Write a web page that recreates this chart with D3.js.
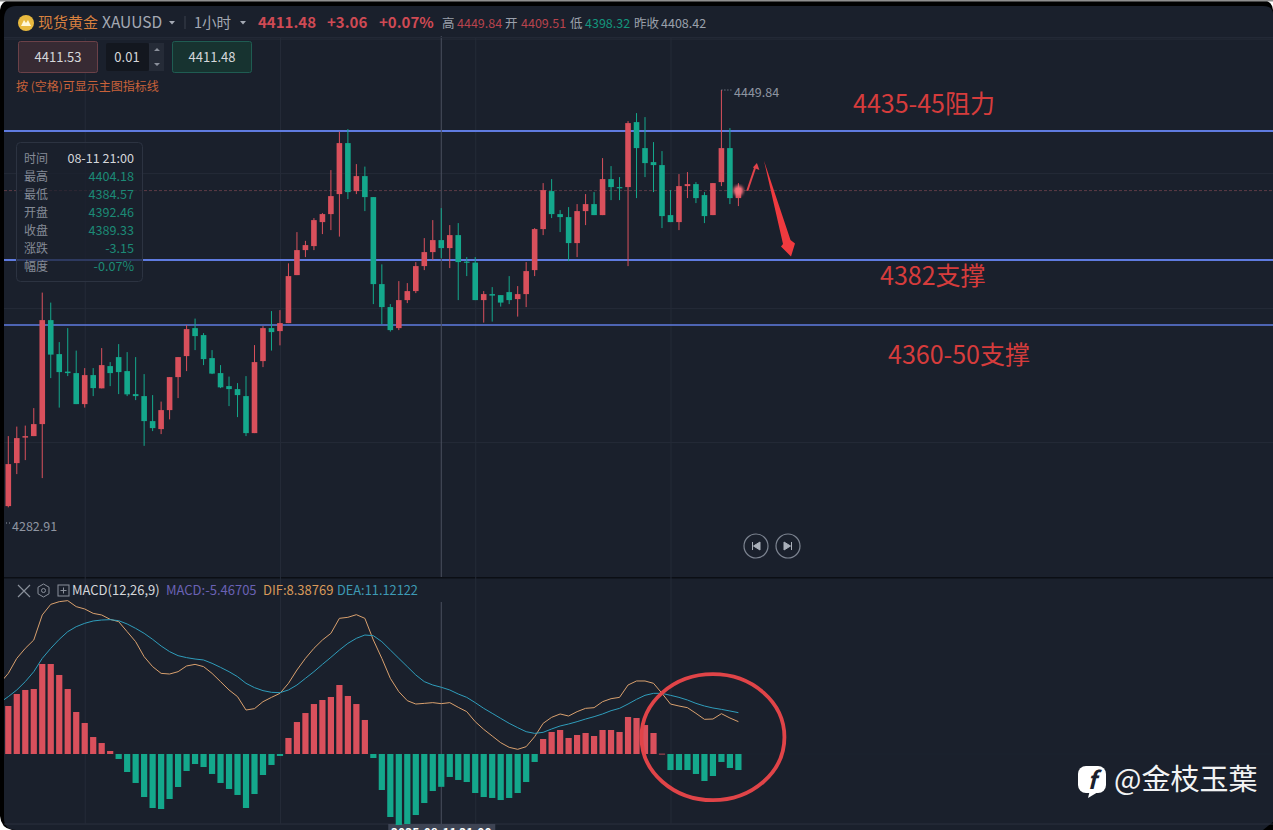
<!DOCTYPE html>
<html>
<head>
<meta charset="utf-8">
<title>XAUUSD</title>
<script src="https://cdn.jsdelivr.net/npm/d3@7/dist/d3.min.js"></script>
<style>
html, body { margin: 0; padding: 0; background: #fff; overflow: hidden; }
svg { display: block; }
text { font-family: "Noto Sans CJK SC", "Noto Sans", sans-serif; }
</style>
</head>
<body>
<svg id="chart" width="1273" height="830"></svg>
<script>

// 1 hour candles
var opens = [4283.4, 4300.6, 4310.8, 4311.4, 4316.2, 4357.8, 4344.2, 4337.2, 4336.6, 4324.2, 4335.8, 4330.5, 4339.4, 4343.0, 4337.4, 4328.2, 4327.4, 4317.4, 4314.2, 4321.8, 4335.0, 4343.4, 4354.6, 4351.8, 4342.6, 4336.6, 4331.4, 4330.2, 4327.4, 4312.6, 4341.4, 4354.6, 4353.4, 4356.6, 4375.8, 4385.8, 4387.4, 4397.0, 4400.2, 4408.2, 4428.6, 4409.4, 4415.4, 4407.0, 4372.2, 4363.0, 4354.6, 4365.8, 4369.4, 4379.4, 4385.0, 4389.8, 4386.6, 4391.8, 4381.2, 4380.8, 4365.8, 4368.2, 4367.8, 4369.0, 4366.2, 4368.2, 4377.8, 4394.2, 4409.4, 4400.2, 4399.0, 4388.6, 4401.4, 4404.2, 4399.8, 4414.2, 4411.0, 4411.0, 4437.0, 4426.6, 4421.0, 4419.8, 4399.8, 4397.0, 4411.4, 4412.2, 4407.8, 4399.8, 4413.0, 4426.6, 4406.6];
var closes = [4300.2, 4310.6, 4311.4, 4316.2, 4357.8, 4344.0, 4337.0, 4336.6, 4324.2, 4335.8, 4330.6, 4339.8, 4336.6, 4337.0, 4328.1, 4327.4, 4317.4, 4314.6, 4321.8, 4335.0, 4343.0, 4354.2, 4351.4, 4342.2, 4336.4, 4330.9, 4330.2, 4327.8, 4312.6, 4341.0, 4354.6, 4353.0, 4356.6, 4375.4, 4385.8, 4387.8, 4397.8, 4400.2, 4407.4, 4428.6, 4409.0, 4415.4, 4407.0, 4372.2, 4363.0, 4353.8, 4365.8, 4369.4, 4379.4, 4385.0, 4389.8, 4386.6, 4391.8, 4381.0, 4380.8, 4365.8, 4368.2, 4367.6, 4364.8, 4365.8, 4368.2, 4377.4, 4394.2, 4409.8, 4400.2, 4399.0, 4388.6, 4401.4, 4404.2, 4399.8, 4414.2, 4411.0, 4410.6, 4436.6, 4426.6, 4420.6, 4419.8, 4399.4, 4397.0, 4411.4, 4412.2, 4406.6, 4399.4, 4412.6, 4426.6, 4406.6, 4410.6];
var highs = [4311.4, 4315.2, 4315.6, 4322.6, 4368.8, 4364.8, 4349.0, 4354.6, 4345.6, 4338.6, 4338.6, 4346.6, 4341.0, 4348.2, 4345.0, 4343.0, 4336.2, 4327.8, 4325.2, 4335.0, 4343.0, 4355.8, 4358.4, 4352.6, 4345.8, 4339.8, 4335.2, 4332.6, 4335.4, 4347.8, 4355.4, 4361.4, 4361.8, 4380.5, 4393.0, 4389.5, 4398.6, 4400.6, 4417.8, 4433.2, 4434.2, 4420.2, 4419.2, 4407.0, 4380.1, 4364.2, 4373.4, 4372.6, 4381.0, 4390.6, 4397.8, 4402.6, 4395.8, 4396.6, 4383.0, 4383.0, 4369.4, 4371.0, 4367.8, 4375.4, 4371.4, 4381.0, 4394.6, 4412.6, 4414.2, 4401.8, 4403.0, 4404.2, 4408.2, 4409.0, 4422.6, 4419.4, 4415.0, 4437.4, 4440.6, 4439.0, 4429.0, 4425.4, 4409.8, 4416.2, 4417.0, 4413.0, 4409.0, 4412.6, 4449.84, 4434.6, 4412.6];
var lows = [4282.91, 4296.2, 4301.8, 4311.4, 4294.6, 4334.6, 4322.8, 4335.4, 4324.2, 4322.8, 4327.4, 4330.5, 4331.4, 4328.2, 4327.4, 4325.8, 4307.5, 4313.4, 4312.2, 4318.1, 4326.6, 4337.4, 4345.8, 4339.8, 4336.2, 4330.6, 4323.4, 4319.0, 4311.4, 4312.6, 4339.0, 4345.6, 4347.7, 4356.6, 4375.8, 4383.0, 4385.8, 4392.2, 4393.8, 4391.2, 4406.2, 4408.2, 4401.4, 4364.2, 4356.2, 4353.2, 4353.8, 4364.6, 4368.6, 4377.8, 4381.8, 4382.6, 4378.6, 4365.8, 4375.4, 4365.8, 4356.8, 4357.2, 4363.2, 4364.2, 4359.2, 4363.0, 4375.4, 4391.8, 4398.6, 4393.0, 4381.4, 4383.0, 4395.8, 4399.8, 4399.8, 4405.8, 4405.8, 4379.4, 4406.6, 4415.0, 4409.0, 4394.6, 4397.0, 4393.8, 4406.6, 4404.6, 4396.6, 4399.8, 4411.4, 4404.2, 4403.4];

var macdHist = [8.0, 10.0, 10.67, 10.83, 15.0, 15.0, 13.17, 10.83, 7.0, 5.17, 2.83, 1.83, 0.5, -0.83, -3.0, -4.83, -7.17, -9.0, -9.17, -7.5, -5.5, -2.83, -1.67, -2.17, -3.33, -4.83, -5.83, -6.83, -9.0, -6.67, -3.5, -1.83, -0.33, 2.67, 5.33, 6.83, 8.33, 9.0, 9.5, 11.5, 9.67, 8.33, 5.67, -0.67, -6.0, -10.5, -11.83, -11.67, -10.17, -8.17, -6.17, -5.47, -3.83, -4.33, -4.67, -6.5, -7.17, -7.33, -7.67, -7.33, -6.5, -4.67, -1.33, 2.5, 3.67, 4.0, 2.67, 3.17, 3.5, 3.0, 4.0, 4.0, 3.67, 6.17, 6.0, 4.83, 3.5, 0.05, -2.67, -2.67, -2.67, -3.33, -4.5, -3.67, -1.33, -2.33, -2.67];
// the two lines have one more point: the bar before the first one, mostly off the left edge
var difValues = [11.78, 13.44, 15.94, 17.61, 19.0, 23.17, 24.94, 25.39, 25.56, 24.56, 24.17, 23.44, 23.17, 22.44, 22.06, 20.39, 18.72, 16.22, 14.56, 13.44, 13.33, 13.72, 14.67, 14.94, 14.56, 13.44, 12.06, 10.67, 9.56, 7.33, 7.56, 8.72, 9.44, 10.11, 11.78, 14.0, 15.94, 17.61, 19.0, 20.11, 22.61, 22.78, 23.22, 22.61, 19.0, 15.94, 12.61, 10.39, 8.89, 8.33, 8.44, 8.56, 8.39, 8.56, 7.78, 7.06, 5.39, 4.11, 3.0, 1.89, 1.11, 0.78, 1.22, 2.89, 5.11, 6.11, 6.67, 6.33, 7.06, 7.61, 7.72, 8.72, 9.22, 9.44, 11.5, 12.17, 12.17, 11.78, 10.11, 8.33, 8.0, 7.72, 6.78, 5.78, 5.83, 6.72, 6.0, 5.39];
var deaValues = [8.56, 9.56, 10.67, 12.06, 13.72, 15.94, 17.61, 19.11, 20.39, 21.22, 21.78, 22.17, 22.33, 22.39, 22.22, 21.67, 20.94, 20.11, 19.11, 18.0, 17.06, 16.39, 16.06, 15.83, 15.67, 15.11, 14.44, 13.72, 12.89, 11.78, 11.06, 10.56, 10.28, 10.22, 10.67, 11.5, 12.61, 13.72, 14.94, 16.11, 17.33, 18.44, 19.28, 19.83, 19.72, 18.72, 17.33, 15.94, 14.56, 13.17, 12.06, 11.5, 11.12, 10.67, 10.0, 9.44, 8.56, 7.61, 6.78, 5.94, 5.11, 4.39, 3.72, 3.44, 3.61, 4.17, 4.67, 5.0, 5.39, 5.83, 6.22, 6.67, 7.22, 7.61, 8.33, 9.11, 9.78, 10.11, 10.11, 9.78, 9.44, 9.0, 8.44, 8.0, 7.67, 7.44, 7.17, 6.89];

var levelPrices = [4433.44, 4381.84, 4355.84];
var levelWidths = [2, 2, 1.6];
var levelNotes = ["4435-45阻力", "4382支撑", "4360-50支撑"];
var gridPrices = [4470.4, 4416.6, 4362.6, 4309.0];
var lastPrice = 4409.6;
var timeTickIndex = [9, 32, 55, 78];
var timeTickLabels = ["08-08 01:00", "08-11 01:00", "08-12 01:00", "08-13 01:00"];
var crossIndex = 51;
var crossLabel = "2025-08-11 21:00";
var tooltipLabels = ["时间", "最高", "最低", "开盘", "收盘", "涨跌", "幅度"];
var tooltipValues = ["08-11 21:00", "4404.18", "4384.57", "4392.46", "4389.33", "-3.15", "-0.07%"];

var upColor = "#d9505c";
var downColor = "#14a88c";
var panelColor = "#1a202c";
var gridColor = "#252b38";
var levelColor = "#5f7be0";
var noteColor = "#d63c3c";

var svg = d3.select("#chart");

var xScale = d3.scaleLinear().domain([0, 86]).range([8.3, 738.4]);
var yScale = d3.scaleLinear().domain([4485.84, 4285.84]).range([0, 500]);
var macdScale = d3.scaleLinear().domain([0, 10]).range([754, 694]);

function addText(parent, x, y, str, color, size, anchor, weight) {
	return parent.append("text")
		.attr("x", x)
		.attr("y", y)
		.attr("fill", color)
		.attr("font-size", size)
		.attr("text-anchor", anchor || "start")
		.attr("font-weight", weight || "normal")
		.text(str);
}

function drawFrame() {
	var defs = svg.append("defs");
	defs.append("clipPath").attr("id", "panelClip").append("rect").attr("x", 4).attr("y", 578).attr("width", 1269).attr("height", 252);
	defs.append("filter").attr("id", "glow").append("feGaussianBlur").attr("stdDeviation", 1.6);

	svg.append("rect").attr("width", 1273).attr("height", 830).attr("fill", "#fff");
	svg.append("rect").attr("width", 1273).attr("height", 860).attr("rx", 10).attr("fill", "#000");
	svg.append("rect").attr("y", 0).attr("width", 1273).attr("height", 1.5).attr("fill", "#8f8f8f");
	svg.append("path")
		.attr("d", "M4 20 Q4 6 16 6 H1263 Q1273 6 1273 14 V822 L1263 830 H16 Q4 830 4 818 Z")
		.attr("fill", panelColor);
	svg.append("path").attr("d", "M0 816 Q1 828 12 830 H0 Z").attr("fill", "#fff");
	svg.append("rect").attr("x", 4).attr("y", 577).attr("width", 1269).attr("height", 1.5).attr("fill", "#0b0e14");
}

function drawGrid() {
	var priceAxis = d3.axisLeft(yScale).tickValues(gridPrices).tickSize(-1269).tickFormat("");
	var g = svg.append("g").attr("transform", "translate(4,0)").call(priceAxis);
	g.select(".domain").remove();
	g.selectAll("line").attr("stroke", gridColor);

	svg.append("line").attr("x1", 4).attr("x2", 1273).attr("y1", macdScale(-11.67)).attr("y2", macdScale(-11.67)).attr("stroke", "#2b313e");
	svg.append("line").attr("x1", 4).attr("x2", 1273).attr("y1", macdScale(0)).attr("y2", macdScale(0)).attr("stroke", "#20263250");

	// vertical grid lines and the clipped date row are one axis
	var timeAxis = d3.axisBottom(xScale)
		.tickValues(timeTickIndex)
		.tickSize(-786)
		.tickPadding(13)
		.tickFormat(function(d, i) { return timeTickLabels[i]; });
	var t = svg.append("g").attr("transform", "translate(0,824)").call(timeAxis);
	t.select(".domain").remove();
	t.selectAll("line").attr("stroke", gridColor);
	t.selectAll("text").attr("fill", "#8d93a0").attr("font-size", 12).attr("font-family", "Noto Sans CJK SC");
}

function drawCross() {
	var cx = xScale(crossIndex);
	svg.append("line").attr("x1", cx).attr("x2", cx).attr("y1", 36).attr("y2", 577).attr("stroke", "#4a505e");
	svg.append("line").attr("x1", cx).attr("x2", cx).attr("y1", 602).attr("y2", 824).attr("stroke", "#4a505e");
	svg.append("rect").attr("x", cx - 53).attr("y", 824).attr("width", 107).attr("height", 8).attr("fill", "#3e4454");
	addText(svg, cx, 837, crossLabel, "#fff", 12, "middle", "bold");
}

function drawCandles() {
	var idx = d3.range(opens.length);
	var g = svg.append("g");

	g.selectAll("line")
		.data(idx)
		.enter()
		.append("line")
		.attr("x1", function(i) { return xScale(i); })
		.attr("x2", function(i) { return xScale(i); })
		.attr("y1", function(i) { return yScale(highs[i]); })
		.attr("y2", function(i) { return yScale(lows[i]); })
		.attr("stroke", function(i) { return closes[i] >= opens[i] ? upColor : downColor; })
		.attr("stroke-width", 1);

	g.selectAll("rect")
		.data(idx)
		.enter()
		.append("rect")
		.attr("x", function(i) { return xScale(i) - 2.8; })
		.attr("width", 5.6)
		.attr("y", function(i) { return yScale(Math.max(opens[i], closes[i])); })
		.attr("height", function(i) { return Math.max(1.2, Math.abs(yScale(opens[i]) - yScale(closes[i]))); })
		.attr("fill", function(i) { return closes[i] >= opens[i] ? upColor : downColor; });
}

function drawLevels() {
	svg.append("line")
		.attr("x1", 4).attr("x2", 1273)
		.attr("y1", yScale(lastPrice)).attr("y2", yScale(lastPrice))
		.attr("stroke", "#5d3b46")
		.attr("stroke-dasharray", "3,2");

	svg.selectAll(".level")
		.data(levelPrices)
		.enter()
		.append("line")
		.attr("class", "level")
		.attr("x1", 4).attr("x2", 1273)
		.attr("y1", function(d) { return yScale(d); })
		.attr("y2", function(d) { return yScale(d); })
		.attr("stroke", levelColor)
		.attr("stroke-width", function(d, i) { return levelWidths[i]; });

	// the hand written notes
	addText(svg, 853, 113, levelNotes[0], noteColor, 25);
	addText(svg, 880, 285, levelNotes[1], noteColor, 25);
	addText(svg, 888, 364, levelNotes[2], noteColor, 25);
}

function drawArrows() {
	// glow on the live candle
	svg.append("circle").attr("cx", xScale(86)).attr("cy", yScale(lastPrice)).attr("r", 5).attr("fill", "#f4707a").attr("filter", "url(#glow)");

	var small = d3.line()([[747.3, 190.7], [755, 168]]);
	svg.append("path").attr("d", small).attr("stroke", "#e2434b").attr("stroke-width", 2).attr("fill", "none");
	svg.append("path").attr("d", "M756.9 163 L759.4 170 L752.9 167.6 Z").attr("fill", "#e2434b");

	svg.append("path")
		.attr("d", "M764 160.7 L790.5 240 L795 243.5 L791 256.5 L781 246.5 L783 244 Z")
		.attr("fill", "#f03a3f");
}

function drawHeader() {
	svg.append("line").attr("x1", 4).attr("x2", 1273).attr("y1", 37.5).attr("y2", 37.5).attr("stroke", "#232936");
	svg.append("circle").attr("cx", 26).attr("cy", 23).attr("r", 8).attr("fill", "#e8b93f");
	svg.append("path").attr("d", "M21 26 L24 20 L26 23 L28 20 L31 26 Z").attr("fill", "#fff7d8");

	addText(svg, 38, 28, "现货黄金", "#d9813f", 15);
	addText(svg, 102, 28, "XAUUSD", "#a4a9b3", 15.5);
	svg.append("path").attr("d", "M169 21 L175 21 L172 24.5 Z").attr("fill", "#a4a9b3");
	svg.append("line").attr("x1", 185).attr("x2", 185).attr("y1", 16).attr("y2", 29).attr("stroke", "#3a404d");
	addText(svg, 194, 28, "1小时", "#a4a9b3", 14.5);
	svg.append("path").attr("d", "M240 21 L246 21 L243 24.5 Z").attr("fill", "#a4a9b3");
	addText(svg, 258, 28, "4411.48", "#cf4a54", 15, "start", "bold");
	addText(svg, 327, 28, "+3.06", "#cf4a54", 15, "start", "bold");
	addText(svg, 379, 28, "+0.07%", "#cf4a54", 15, "start", "bold");

	addText(svg, 442, 28, "高", "#9aa0ab", 12.5);
	addText(svg, 457, 28, "4449.84", "#b8434d", 12.5);
	addText(svg, 505, 28, "开", "#9aa0ab", 12.5);
	addText(svg, 521, 28, "4409.51", "#b8434d", 12.5);
	addText(svg, 570, 28, "低", "#9aa0ab", 12.5);
	addText(svg, 585, 28, "4398.32", "#14957c", 12.5);
	addText(svg, 634, 28, "昨收", "#9aa0ab", 12.5);
	addText(svg, 661, 28, "4408.42", "#9aa0ab", 12.5);

	svg.append("rect").attr("x", 18.5).attr("y", 41.5).attr("width", 79).attr("height", 31).attr("rx", 2).attr("fill", "#372a33").attr("stroke", "#6b4148");
	addText(svg, 58, 62, "4411.53", "#d5d7db", 13, "middle");
	svg.append("rect").attr("x", 106).attr("y", 43).attr("width", 43).attr("height", 28).attr("rx", 2).attr("fill", "#13171f");
	svg.append("rect").attr("x", 149).attr("y", 43).attr("width", 15).attr("height", 28).attr("fill", "#252b37");
	addText(svg, 127, 62, "0.01", "#d5d7db", 13, "middle");
	svg.append("path").attr("d", "M154 51 L160 51 L157 48 Z M154 63 L160 63 L157 66 Z").attr("fill", "#8a909b");
	svg.append("rect").attr("x", 172.5).attr("y", 41.5).attr("width", 79).attr("height", 31).attr("rx", 2).attr("fill", "#173330").attr("stroke", "#1f5c52");
	addText(svg, 212, 62, "4411.48", "#d5d7db", 13, "middle");

	addText(svg, 16, 91, "按 (空格)可显示主图指标线", "#c9623a", 12);
}

function drawTooltip() {
	svg.append("rect")
		.attr("x", 16.5).attr("y", 142.5).attr("width", 126).attr("height", 139).attr("rx", 4)
		.attr("fill", panelColor).attr("fill-opacity", 0.72)
		.attr("stroke", "#2c3341");
	tooltipLabels.forEach(function(label, i) {
		var y = 163 + i * 18;
		addText(svg, 24, y, label, "#858b97", 12);
		addText(svg, 134, y, tooltipValues[i], i == 0 ? "#d5d7db" : "#1c8a76", 12.6, "end");
	});
}

function drawExtremes() {
	addText(svg, 734, 97, "4449.84", "#8f95a1", 12.5);
	svg.append("line").attr("x1", xScale(84)).attr("x2", 733).attr("y1", yScale(highs[84])).attr("y2", yScale(highs[84])).attr("stroke", "#8f95a1").attr("stroke-dasharray", "1,2");
	addText(svg, 12, 531, "4282.91", "#8f95a1", 12.5);
	svg.append("line").attr("x1", 6).attr("x2", 11).attr("y1", 523).attr("y2", 523).attr("stroke", "#8f95a1").attr("stroke-dasharray", "1,2");
}

function drawNavButtons() {
	var icons = ["M752.5 542 V550 M760 542 L753.5 546 L760 550 Z", "M791.5 542 V550 M784 542 L790.5 546 L784 550 Z"];
	[756, 788].forEach(function(cx, i) {
		svg.append("circle").attr("cx", cx).attr("cy", 546).attr("r", 12).attr("fill", "none").attr("stroke", "#7d8491").attr("stroke-width", 1.2);
		svg.append("path").attr("d", icons[i]).attr("fill", "#aab0ba").attr("stroke", "#aab0ba");
	});
}

function drawMacd() {
	var idx = d3.range(macdHist.length);

	svg.append("g")
		.selectAll("rect")
		.data(idx)
		.enter()
		.append("rect")
		.attr("x", function(i) { return xScale(i) - 3.1; })
		.attr("width", 6.2)
		.attr("y", function(i) { return macdScale(Math.max(macdHist[i], 0)); })
		.attr("height", function(i) { return Math.max(0.8, Math.abs(macdScale(macdHist[i]) - macdScale(0))); })
		.attr("fill", function(i) { return macdHist[i] >= 0 ? upColor : downColor; });

	var line = d3.line()
		.x(function(d, i) { return xScale(i - 1); })
		.y(function(d) { return macdScale(d); });

	var lines = svg.append("g").attr("clip-path", "url(#panelClip)");
	lines.append("path").attr("d", line(difValues)).attr("fill", "none").attr("stroke", "#d9a06e").attr("stroke-width", 1);
	lines.append("path").attr("d", line(deaValues)).attr("fill", "none").attr("stroke", "#2f9dbb").attr("stroke-width", 1);

	// legend row
	svg.append("path").attr("d", "M18 585 L30 597 M30 585 L18 597").attr("stroke", "#8a909b").attr("stroke-width", 1.2);
	svg.append("path").attr("d", "M43.5 584 L49 587.2 V593.8 L43.5 597 L38 593.8 V587.2 Z").attr("fill", "none").attr("stroke", "#8a909b");
	svg.append("circle").attr("cx", 43.5).attr("cy", 590.5).attr("r", 2).attr("fill", "none").attr("stroke", "#8a909b");
	svg.append("rect").attr("x", 58).attr("y", 585).attr("width", 11).attr("height", 11).attr("fill", "none").attr("stroke", "#8a909b");
	svg.append("path").attr("d", "M60.5 590.5 H66.5 M63.5 587.5 V593.5").attr("stroke", "#8a909b");
	addText(svg, 72, 595, "MACD(12,26,9)", "#d5d7db", 13);
	addText(svg, 166, 595, "MACD:-5.46705", "#6a62b5", 13);
	addText(svg, 263, 595, "DIF:8.38769", "#d99a5a", 13);
	addText(svg, 337, 595, "DEA:11.12122", "#3d9ab5", 12.8);

	// the hand drawn ring round the last bars
	svg.append("ellipse")
		.attr("cx", xScale(83)).attr("cy", macdScale(2.8))
		.attr("rx", 71.5).attr("ry", 63)
		.attr("fill", "none")
		.attr("stroke", "#e04448")
		.attr("stroke-width", 3.8);
}

function drawWatermark() {
	svg.append("rect").attr("x", 1078).attr("y", 766).attr("width", 28).attr("height", 27).attr("rx", 8).attr("fill", "#fff");
	svg.append("path").attr("d", "M1088 798 L1090 790 L1098 792 Z").attr("fill", "#fff");
	addText(svg, 1092, 789, "f", panelColor, 24, "middle", "bold").attr("font-style", "italic");
	addText(svg, 1114, 790, "@金枝玉葉", "#f2f3f4", 29);
}

drawFrame();
drawGrid();
drawLevels();
drawCross();
drawCandles();
drawHeader();
drawTooltip();
drawExtremes();
drawNavButtons();
drawMacd();
drawArrows();
drawWatermark();

</script>
</body>
</html>
